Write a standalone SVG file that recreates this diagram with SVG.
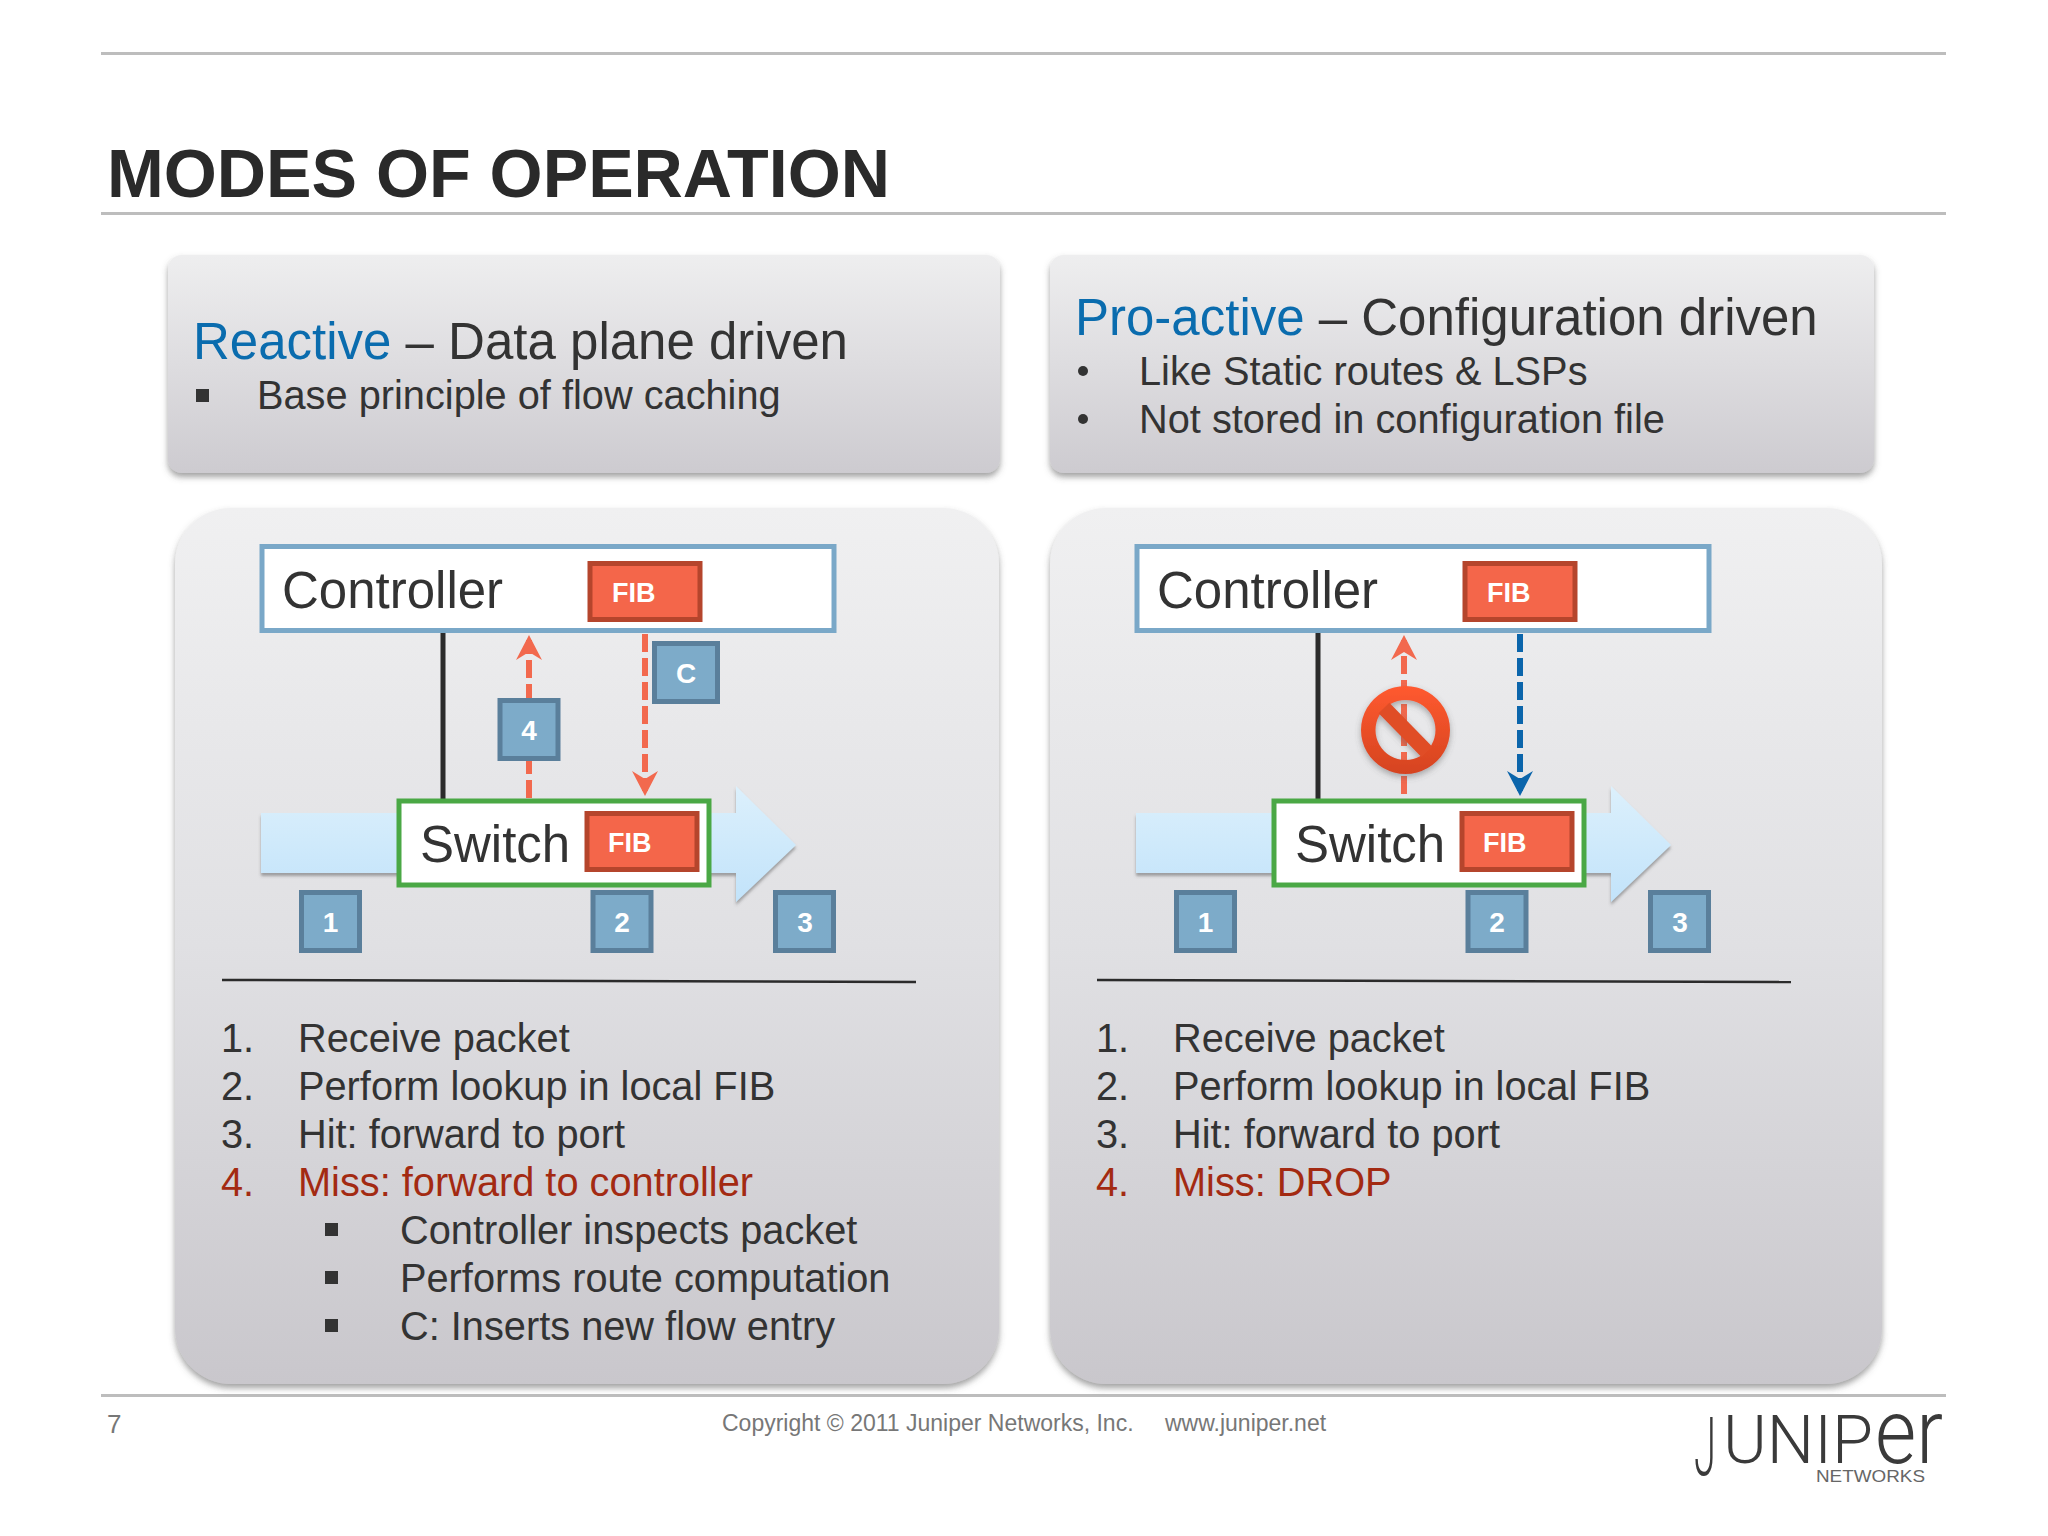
<svg xmlns="http://www.w3.org/2000/svg" width="2048" height="1536" viewBox="0 0 2048 1536">
<defs>
<linearGradient id="panelTop" x1="0" y1="0" x2="0" y2="1"><stop offset="0" stop-color="#eeeeef"/><stop offset="1" stop-color="#cdcbd0"/></linearGradient>
<linearGradient id="panelBig" x1="0" y1="0" x2="0" y2="1"><stop offset="0" stop-color="#f0f0f1"/><stop offset="0.5" stop-color="#e0e0e3"/><stop offset="1" stop-color="#c9c7cc"/></linearGradient>
<linearGradient id="flow" x1="0" y1="0" x2="0" y2="1"><stop offset="0" stop-color="#dcf0fc"/><stop offset="1" stop-color="#c2e3fa"/></linearGradient>
<linearGradient id="sign" x1="0" y1="0" x2="0" y2="1"><stop offset="0" stop-color="#ff5a30"/><stop offset="1" stop-color="#d5431f"/></linearGradient>
<filter id="shadow" x="-5%" y="-5%" width="110%" height="112%"><feDropShadow dx="0" dy="4" stdDeviation="3" flood-color="#555" flood-opacity="0.55"/></filter>
<filter id="shadowSmall" x="-5%" y="-10%" width="110%" height="125%"><feDropShadow dx="0" dy="3" stdDeviation="1.5" flood-color="#555" flood-opacity="0.5"/></filter>
<filter id="glow" x="-20%" y="-20%" width="140%" height="140%"><feDropShadow dx="0" dy="3" stdDeviation="3" flood-color="#555" flood-opacity="0.45"/></filter>
<marker id="headRed" markerUnits="userSpaceOnUse" markerWidth="28" markerHeight="28" refX="20" refY="13" orient="auto"><path d="M0,0 L25,13 L0,26 L8,13 Z" fill="#f2694e"/></marker>
<marker id="headBlue" markerUnits="userSpaceOnUse" markerWidth="28" markerHeight="28" refX="20" refY="13" orient="auto"><path d="M0,0 L25,13 L0,26 L8,13 Z" fill="#0b65ab"/></marker>
</defs>
<style>
text{font-family:"Liberation Sans",Arial,sans-serif;fill:#333}
.rule{stroke:#bdbdbd;stroke-width:3;fill:none}
.ptop{fill:url(#panelTop);filter:url(#shadow)}
.pbig{fill:url(#panelBig);filter:url(#shadow)}
.h{font-size:51px}
.blue{fill:#0a6cae}
.b{font-size:39.75px}
.red{fill:#a32a12}
.ctrl{fill:#fff;stroke:#7aa8c8;stroke-width:5}
.sw{fill:#fff;stroke:#4aa845;stroke-width:5}
.fib{fill:#f4664a;stroke:#b5452c;stroke-width:5}
.fibt{font-size:27px;font-weight:bold;fill:#fff}
.num{fill:#7dabc9;stroke:#5a7f9b;stroke-width:5}
.numt{font-size:28px;font-weight:bold;fill:#fff;text-anchor:middle}
.big{font-size:51px}
.flow{fill:url(#flow);filter:url(#shadowSmall)}
.black{stroke:#2b2b2b;stroke-width:5;fill:none}
.dash{stroke:#f2694e;stroke-width:6;stroke-dasharray:18 6;fill:none}
.sq{fill:#333}
.sep{stroke:#2b2b2b;stroke-width:2.5;fill:none}
.foot{font-size:23px;fill:#777}
</style>
<rect width="2048" height="1536" fill="#fff"/>
<g id="chrome">
<line class="rule" x1="101" y1="53.5" x2="1946" y2="53.5"/>
<line class="rule" x1="101" y1="213.5" x2="1946" y2="213.5"/>
<line class="rule" x1="101" y1="1395.5" x2="1946" y2="1395.5"/>
<text x="107" y="197" font-size="68.2" font-weight="bold" style="fill:#2a2a2a">MODES OF OPERATION</text>
</g>
<g id="reactive-header">
<rect class="ptop" x="168" y="255" width="832" height="218" rx="14"/>
<text class="h" x="193" y="359"><tspan class="blue">Reactive</tspan> – Data plane driven</text>
<rect class="sq" x="196" y="389" width="13" height="13"/>
<text class="b" x="257" y="409">Base principle of flow caching</text>
</g>
<g id="proactive-header">
<rect class="ptop" x="1050" y="255" width="824" height="218" rx="14"/>
<text class="h" x="1075" y="335"><tspan class="blue">Pro-active</tspan> – Configuration driven</text>
<circle class="sq" cx="1083" cy="371" r="5"/>
<text class="b" x="1139" y="385">Like Static routes &amp; LSPs</text>
<circle class="sq" cx="1083" cy="419" r="5"/>
<text class="b" x="1139" y="433">Not stored in configuration file</text>
</g>
<g id="reactive-panel">
<rect class="pbig" x="175" y="508" width="824" height="876" rx="56"/>
<line class="sep" x1="222" y1="980" x2="916" y2="982"/>
<text class="b" x="221" y="1052">1.</text><text class="b" x="298" y="1052">Receive packet</text>
<text class="b" x="221" y="1100">2.</text><text class="b" x="298" y="1100">Perform lookup in local FIB</text>
<text class="b" x="221" y="1148">3.</text><text class="b" x="298" y="1148">Hit: forward to port</text>
<text class="b red" x="221" y="1196">4.</text><text class="b red" x="298" y="1196">Miss: forward to controller</text>
<rect class="sq" x="325" y="1223" width="13" height="13"/><text class="b" x="400" y="1244">Controller inspects packet</text>
<rect class="sq" x="325" y="1271" width="13" height="13"/><text class="b" x="400" y="1292">Performs route computation</text>
<rect class="sq" x="325" y="1319" width="13" height="13"/><text class="b" x="400" y="1340">C: Inserts new flow entry</text>
</g>
<g id="proactive-panel">
<rect class="pbig" x="1050" y="508" width="832" height="876" rx="56"/>
<line class="sep" x1="1097" y1="980" x2="1791" y2="982"/>
<text class="b" x="1096" y="1052">1.</text><text class="b" x="1173" y="1052">Receive packet</text>
<text class="b" x="1096" y="1100">2.</text><text class="b" x="1173" y="1100">Perform lookup in local FIB</text>
<text class="b" x="1096" y="1148">3.</text><text class="b" x="1173" y="1148">Hit: forward to port</text>
<text class="b red" x="1096" y="1196">4.</text><text class="b red" x="1173" y="1196">Miss: DROP</text>
</g>
<g id="flows">
<path id="flow-left" class="flow" d="M261,813 H736 V786 L796,845 L736,902 V873 H261 Z"/>
<path id="flow-right" class="flow" d="M1136,813 H1611 V786 L1671,845 L1611,902 V873 H1136 Z"/>
</g>
<g id="connectors">
<line class="black" x1="443" y1="630" x2="443" y2="800"/>
<line class="dash" x1="529" y1="798" x2="529" y2="640" marker-end="url(#headRed)"/>
<line class="dash" x1="645" y1="634" x2="645" y2="791" marker-end="url(#headRed)"/>
<line class="black" x1="1318" y1="630" x2="1318" y2="800"/>
<line class="dash" x1="1404" y1="794" x2="1404" y2="640" marker-end="url(#headRed)"/>
<line class="dash" x1="1520" y1="634" x2="1520" y2="791" marker-end="url(#headBlue)" style="stroke:#0b65ab"/>
</g>
<g id="reactive-controller">
<rect class="ctrl" x="262" y="546.5" width="572" height="84"/>
<text class="big" x="282" y="608">Controller</text>
</g>
<g id="reactive-controller-fib">
<rect class="fib" x="590" y="563.5" width="110" height="56"/>
<text class="fibt" x="612" y="602">FIB</text>
</g>
<g id="reactive-switch">
<rect class="sw" x="399" y="801" width="310" height="84"/>
<text class="big" x="420" y="862">Switch</text>
</g>
<g id="reactive-switch-fib">
<rect class="fib" x="587" y="813.5" width="110" height="56"/>
<text class="fibt" x="608" y="852">FIB</text>
</g>
<g id="reactive-step-1"><rect class="num" x="301.5" y="892.5" width="58" height="58"/><text class="numt" x="330.5" y="932">1</text></g>
<g id="reactive-step-2"><rect class="num" x="593" y="892.5" width="58" height="58"/><text class="numt" x="622" y="932">2</text></g>
<g id="reactive-step-3"><rect class="num" x="775.5" y="892.5" width="58" height="58"/><text class="numt" x="805" y="932">3</text></g>
<g id="reactive-step-4"><rect class="num" x="500" y="700.5" width="58" height="58"/><text class="numt" x="529" y="740">4</text></g>
<g id="reactive-step-c"><rect class="num" x="654.5" y="643.5" width="63" height="58"/><text class="numt" x="686" y="683">C</text></g>
<g id="proactive-controller">
<rect class="ctrl" x="1137" y="546.5" width="572" height="84"/>
<text class="big" x="1157" y="608">Controller</text>
</g>
<g id="proactive-controller-fib">
<rect class="fib" x="1465" y="563.5" width="110" height="56"/>
<text class="fibt" x="1487" y="602">FIB</text>
</g>
<g id="proactive-switch">
<rect class="sw" x="1274" y="801" width="310" height="84"/>
<text class="big" x="1295" y="862">Switch</text>
</g>
<g id="proactive-switch-fib">
<rect class="fib" x="1462" y="813.5" width="110" height="56"/>
<text class="fibt" x="1483" y="852">FIB</text>
</g>
<g id="proactive-step-1"><rect class="num" x="1176.5" y="892.5" width="58" height="58"/><text class="numt" x="1205.5" y="932">1</text></g>
<g id="proactive-step-2"><rect class="num" x="1468" y="892.5" width="58" height="58"/><text class="numt" x="1497" y="932">2</text></g>
<g id="proactive-step-3"><rect class="num" x="1650.5" y="892.5" width="58" height="58"/><text class="numt" x="1680" y="932">3</text></g>
<g id="prohibit" filter="url(#glow)">
<path d="M1405.5,686 a44.5,44 0 1,0 0.01,0 Z M1405.5,700 a30,30 0 1,1 -0.01,0 Z" fill="url(#sign)" fill-rule="evenodd"/>
<line x1="1384" y1="708" x2="1427" y2="752" stroke="#e04d26" stroke-width="15"/>
</g>
<g id="footer">
<text class="foot" x="107" y="1433" style="font-size:26px">7</text>
<text class="foot" x="722" y="1431">Copyright © 2011 Juniper Networks, Inc.</text>
<text class="foot" x="1165" y="1431">www.juniper.net</text>
<text style="font-family:Roboto,sans-serif;font-weight:300;fill:#3a3a3a"><tspan x="1694" y="1475" font-size="82" textLength="22" lengthAdjust="spacingAndGlyphs">J</tspan><tspan x="1723" y="1463" font-size="67" textLength="150" lengthAdjust="spacingAndGlyphs">UNIP</tspan><tspan x="1875" y="1463" font-size="91" textLength="68" lengthAdjust="spacingAndGlyphs">er</tspan></text>
<text x="1816" y="1482" font-size="17" textLength="109" lengthAdjust="spacingAndGlyphs" style="fill:#666">NETWORKS</text>
</g>
</svg>
